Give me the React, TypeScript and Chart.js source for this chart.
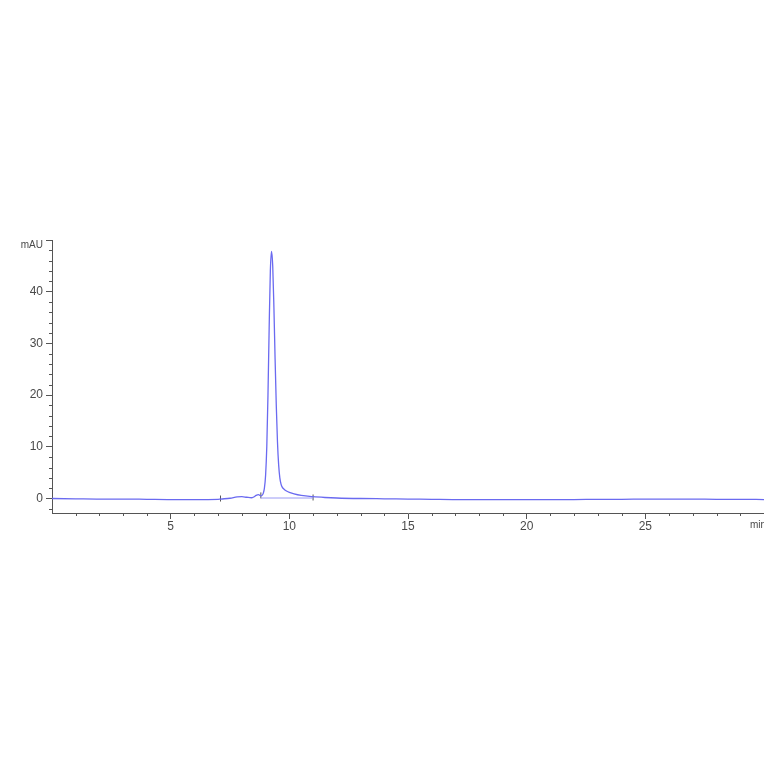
import { useEffect, useRef } from "react";
import { Chart, registerables } from "chart.js";

Chart.register(...registerables);

// retention time (min) and absorbance (mAU)
const TIME = [
  0, 1, 2, 3, 4, 5, 6, 7, 7.1, 7.5, 7.8, 8.0, 8.2, 8.4, 8.5, 8.6, 8.7, 8.8,
  8.85, 8.9, 8.95, 9.0, 9.05, 9.1, 9.15, 9.2, 9.25, 9.3, 9.35, 9.4, 9.45, 9.5,
  9.55, 9.6, 9.65, 9.7, 9.8, 9.9, 10.0, 10.2, 10.5, 11, 11.5, 12, 13, 14, 15,
  16, 17, 18, 19, 20, 21, 22, 23, 24, 25, 26, 27, 28, 29, 30,
];
const SIGNAL = [
  0.0, -0.05, -0.1, -0.1, -0.15, -0.2, -0.2, -0.15, -0.1, 0.05, 0.3, 0.35,
  0.25, 0.15, 0.3, 0.6, 0.75, 0.5, 0.6, 1.0, 2.0, 4.5, 10, 20, 33, 44, 47.8,
  45, 37, 27, 18, 11, 6.5, 4.0, 2.8, 2.2, 1.7, 1.4, 1.2, 0.9, 0.6, 0.35, 0.2,
  0.1, 0.0, -0.05, -0.1, -0.15, -0.2, -0.2, -0.2, -0.2, -0.2, -0.2, -0.15,
  -0.15, -0.1, -0.1, -0.1, -0.15, -0.15, -0.2,
];

// integration baseline and peak start/end markers
const BASELINE_T = [8.8, 11.0];
const BASELINE_V = [0.1, 0.1];
const MARK_T = [7.1, 8.8, 11.0];
const MARK_V = [0.0, 0.6, 0.2];

const X_TICKS = [5, 10, 15, 20, 25];
const Y_TICKS = [0, 10, 20, 30, 40, 50];
const X_UNIT = { at: 29.75, text: "min" };
const Y_UNIT = { at: 49, text: "mAU" };
const X_MINOR = [1, 2, 3, 4, 6, 7, 8, 9, 11, 12, 13, 14, 16, 17, 18, 19, 21, 22, 23, 24, 26, 27, 28, 29];
const Y_MINOR = [-2, 2, 4, 6, 8, 12, 14, 16, 18, 22, 24, 26, 28, 32, 34, 36, 38, 42, 44, 46, 48];

const AXIS = "#555555";
const LABEL = "#4a4a4a";
const TRACE = "#6a6af0";

const minorTicks = {
  id: "minorTicks",
  afterDraw(chart: any) {
    const { ctx, scales } = chart;
    const xs = scales.x;
    const ys = scales.y;
    ctx.save();
    ctx.strokeStyle = AXIS;
    ctx.lineWidth = 1;
    ctx.beginPath();
    X_MINOR.forEach((v) => {
      const px = Math.round(xs.getPixelForValue(v)) + 0.5;
      ctx.moveTo(px, ys.bottom);
      ctx.lineTo(px, ys.bottom + 3);
    });
    Y_MINOR.forEach((v) => {
      const py = Math.round(ys.getPixelForValue(v)) + 0.5;
      ctx.moveTo(xs.left - 3, py);
      ctx.lineTo(xs.left, py);
    });
    ctx.stroke();
    ctx.restore();
  },
};

const small = { family: "Liberation Sans", size: 10 };
const normal = { family: "Liberation Sans", size: 12 };

export default function App() {
  const canvasRef = useRef<HTMLCanvasElement | null>(null);

  useEffect(() => {
    if (!canvasRef.current) return;

    const chart = new Chart(canvasRef.current.getContext("2d")!, {
      type: "line",
      data: {
        datasets: [
          {
            data: TIME.map((t, i) => ({ x: t, y: SIGNAL[i] })),
            borderColor: TRACE,
            borderWidth: 1.3,
            pointRadius: 0,
            cubicInterpolationMode: "monotone",
          },
          {
            data: BASELINE_T.map((t, i) => ({ x: t, y: BASELINE_V[i] })),
            borderColor: "#9a9af4",
            borderWidth: 1,
            pointRadius: 0,
          },
          {
            type: "scatter",
            data: MARK_T.map((t, i) => ({ x: t, y: MARK_V[i] })),
            pointStyle: "line",
            rotation: 90,
            pointRadius: 3,
            borderColor: AXIS,
            borderWidth: 1,
          } as any,
        ],
      },
      options: {
        responsive: false,
        animation: false,
        layout: { autoPadding: false, padding: { top: 240, bottom: 200, left: 0, right: 0 } },
        plugins: { legend: { display: false }, tooltip: { enabled: false } },
        scales: {
          x: {
            type: "linear",
            min: 0,
            max: 30,
            afterBuildTicks: (s: any) => {
              s.ticks = [...X_TICKS, X_UNIT.at].map((v) => ({ value: v }));
            },
            afterFit: (s: any) => {
              s.height = 51;
              s.paddingLeft = 0;
              s.paddingRight = 0;
            },
            ticks: {
              autoSkip: false,
              maxRotation: 0,
              padding: 0,
              color: LABEL,
              font: (c: any) => (c.tick && c.tick.value === X_UNIT.at ? small : normal),
              callback: (v: any) => (v === X_UNIT.at ? X_UNIT.text : String(v)),
            },
            grid: {
              drawOnChartArea: false,
              tickLength: 6,
              color: AXIS,
              tickColor: (c: any) => (c.tick && c.tick.value === X_UNIT.at ? "rgba(0,0,0,0)" : AXIS),
            },
            border: { display: true, color: AXIS },
          },
          y: {
            type: "linear",
            min: -2.8,
            max: 50,
            afterBuildTicks: (s: any) => {
              s.ticks = [...Y_TICKS, Y_UNIT.at].map((v) => ({ value: v }));
            },
            afterFit: (s: any) => {
              s.width = 52;
              s.paddingTop = 0;
              s.paddingBottom = 0;
            },
            ticks: {
              padding: 3,
              color: LABEL,
              font: (c: any) => (c.tick && c.tick.value === Y_UNIT.at ? small : normal),
              callback: (v: any) => (v === Y_UNIT.at ? Y_UNIT.text : v === 50 ? "" : String(v)),
            },
            grid: {
              drawOnChartArea: false,
              tickLength: 6,
              color: AXIS,
              tickColor: (c: any) => (c.tick && c.tick.value === Y_UNIT.at ? "rgba(0,0,0,0)" : AXIS),
            },
            border: { display: true, color: AXIS },
          },
        },
      },
      plugins: [minorTicks],
    });

    return () => chart.destroy();
  }, []);

  return (
    <div style={{ position: "absolute", left: 0, top: 0, width: 764, height: 764, background: "#fff" }}>
      <canvas ref={canvasRef} width={764} height={764} />
    </div>
  );
}
